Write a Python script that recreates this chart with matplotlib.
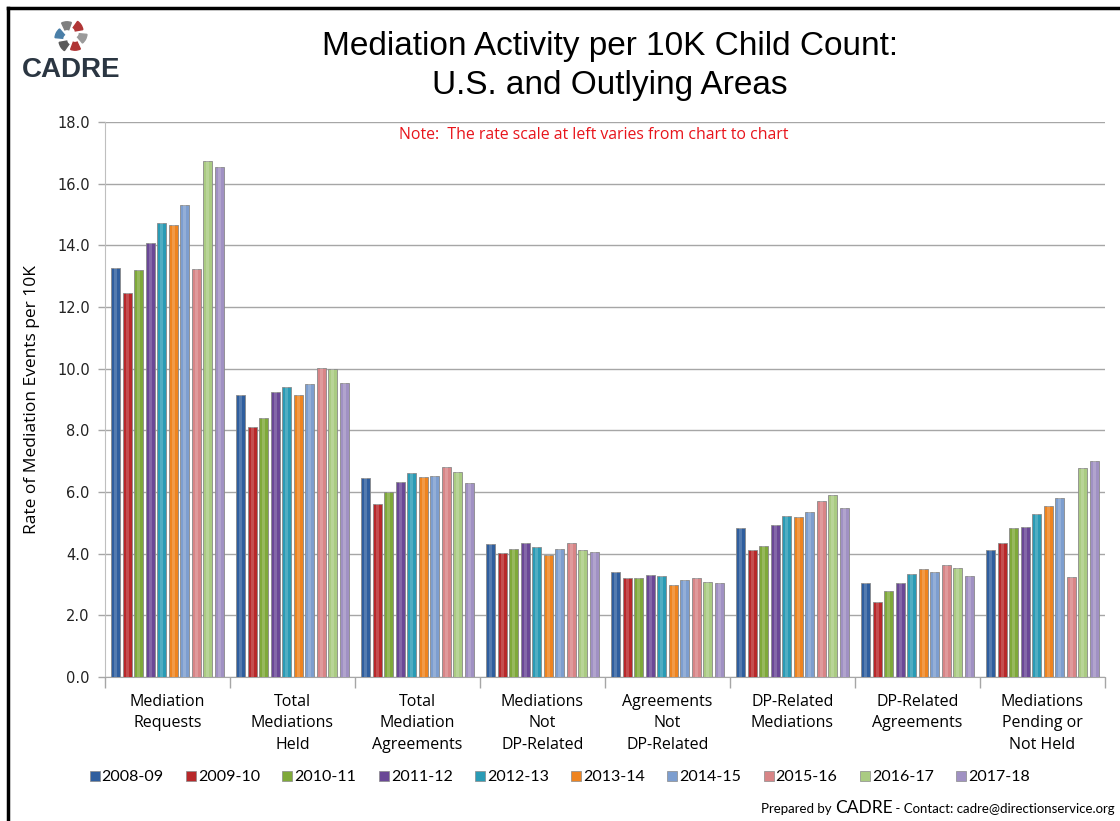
import numpy as np
import matplotlib
matplotlib.use("Agg")
import matplotlib.pyplot as plt
from matplotlib.patches import Wedge
from matplotlib.lines import Line2D

categories = ["Mediation\nRequests", "Total\nMediations\nHeld", "Total\nMediation\nAgreements",
              "Mediations\nNot\nDP-Related", "Agreements\nNot\nDP-Related", "DP-Related\nMediations",
              "DP-Related\nAgreements", "Mediations\nPending or\nNot Held"]
years = ["2008-09", "2009-10", "2010-11", "2011-12", "2012-13", "2013-14",
         "2014-15", "2015-16", "2016-17", "2017-18"]

# values[year] per category
v_2008 = [13.28, 9.15, 6.44, 4.31, 3.39, 4.84, 3.06, 4.12]
v_2009 = [12.44, 8.12, 5.62, 4.03, 3.22, 4.12, 2.42, 4.34]
v_2010 = [13.20, 8.41, 6.00, 4.16, 3.22, 4.26, 2.80, 4.82]
v_2011 = [14.07, 9.25, 6.33, 4.35, 3.32, 4.93, 3.04, 4.85]
v_2012 = [14.72, 9.42, 6.62, 4.22, 3.27, 5.23, 3.34, 5.30]
v_2013 = [14.67, 9.15, 6.50, 3.95, 3.00, 5.18, 3.50, 5.55]
v_2014 = [15.31, 9.50, 6.52, 4.16, 3.14, 5.34, 3.39, 5.82]
v_2015 = [13.23, 10.01, 6.82, 4.35, 3.22, 5.70, 3.62, 3.25]
v_2016 = [16.74, 9.99, 6.65, 4.11, 3.08, 5.91, 3.55, 6.77]
v_2017 = [16.53, 9.52, 6.30, 4.05, 3.05, 5.48, 3.28, 7.01]
series = [v_2008, v_2009, v_2010, v_2011, v_2012, v_2013, v_2014, v_2015, v_2016, v_2017]

colors = ["#2F5E9E", "#B8282A", "#7FA93A", "#6A4896", "#2A9BB5", "#EE8420",
          "#7D9ECF", "#D88587", "#AACB82", "#A091C3"]
yticks = [0, 2, 4, 6, 8, 10, 12, 14, 16, 18]

W, H = 1120, 821
fig = plt.figure(figsize=(W / 100, H / 100), dpi=100)
fig.patch.set_facecolor("white")

def fx(px):
    return px / W

def fy(py):
    return 1 - py / H

ax = fig.add_axes([fx(105), fy(677), fx(1105) - fx(105), fy(122) - fy(677)])

pitch = 0.092
bw = 0.072
centers = np.arange(len(categories)) + 0.5
for j, (vals, c) in enumerate(zip(series, colors)):
    x = centers + (j - 4.5) * pitch
    ax.bar(x, vals, width=bw, color=c, edgecolor="#8a8a8a", linewidth=0.6, zorder=3, label=years[j])
    ax.bar(x, vals, width=bw * 0.35, color="white", alpha=0.18, linewidth=0, zorder=4)

ax.set_xlim(0, len(categories))
ax.set_ylim(0, 18)
ax.set_yticks(yticks)
ax.set_yticklabels([f"{t:.1f}" for t in yticks], fontsize=10.5, family="DejaVu Sans", color="#222222")
ax.yaxis.grid(True, color="#a6a6a6", linewidth=1.0, zorder=0)
ax.set_axisbelow(True)

ax.set_xticks(centers)
ax.set_xticklabels(categories, fontsize=11.5, family="Open Sans", linespacing=1.46, va="top")
ax.set_xticks(np.arange(len(categories) + 1), minor=True)
ax.tick_params(axis="x", which="major", length=0, pad=12)
ax.tick_params(axis="x", which="minor", length=8, color="#a6a6a6", width=1)
ax.tick_params(axis="y", length=5, color="#a6a6a6", width=1, pad=6)

for s in ["top", "right"]:
    ax.spines[s].set_visible(False)
ax.spines["left"].set_color("#bfbfbf")
ax.spines["bottom"].set_color("#a6a6a6")

ax.set_ylabel("Rate of Mediation Events per 10K", fontsize=12.5, family="Open Sans", labelpad=12)

# title and note
fig.text(fx(610), fy(66), "Mediation Activity per 10K Child Count:\nU.S. and Outlying Areas",
         ha="center", va="center", fontsize=24, family="Liberation Sans", linespacing=1.3)
fig.text(fx(594), fy(135), "Note:  The rate scale at left varies from chart to chart",
         ha="center", va="center", fontsize=11.4, family="Open Sans", color="#E8141B")

# legend
handles = [Line2D([0], [0], marker="s", linestyle="none", markersize=7, markerfacecolor=c,
                  markeredgecolor="#8a8a8a", markeredgewidth=0.5) for c in colors]
fig.legend(handles, years, loc="center", bbox_to_anchor=(fx(559), fy(777)), ncol=10, frameon=False,
           handletextpad=0.05, columnspacing=1.3, handlelength=0.8,
           prop={"family": "Lato", "size": 11.5})

# footer
t1 = fig.text(fx(1115), fy(813), "Prepared by ", ha="right", va="baseline", fontsize=9.5, family="Lato")
footer_r = fig.text(fx(1115), fy(813), " - Contact: cadre@directionservice.org", ha="right",
                    va="baseline", fontsize=9.5, family="Lato")
fig.canvas.draw()
bb = footer_r.get_window_extent()
cadre_small = fig.text(bb.x0 / W, fy(813), "CADRE", ha="right", va="baseline", fontsize=12.5, family="Lato")
fig.canvas.draw()
bb2 = cadre_small.get_window_extent()
t1.set_x(bb2.x0 / W)

# logo
fig.text(fx(71), fy(77), "CADRE", ha="center", va="baseline", fontsize=20, fontweight="bold",
         family="Liberation Sans", color="#2B3642")
lax = fig.add_axes([fx(54), fy(53), fx(34), fx(34) * W / H])
lax.set_xlim(-1, 1)
lax.set_ylim(-1, 1)
lax.set_aspect("equal")
lax.axis("off")
wcols = ["#B03535", "#7f7f7f", "#4A7FA8", "#5a5a5a", "#B03535", "#9a9a9a"]
for k in range(6):
    a0 = k * 60 + 10
    lax.add_patch(Wedge((0.25 * np.cos(np.radians(a0 + 90)), 0.25 * np.sin(np.radians(a0 + 90))),
                        0.75, a0, a0 + 45, width=0.45, color=wcols[k]))

# border
fig.add_artist(Line2D([fx(8), fx(8)], [fy(8), 0], color="black", linewidth=2.5))
fig.add_artist(Line2D([fx(8), 1], [fy(8), fy(8)], color="black", linewidth=2.5))

fig.savefig("out.png", dpi=100)
